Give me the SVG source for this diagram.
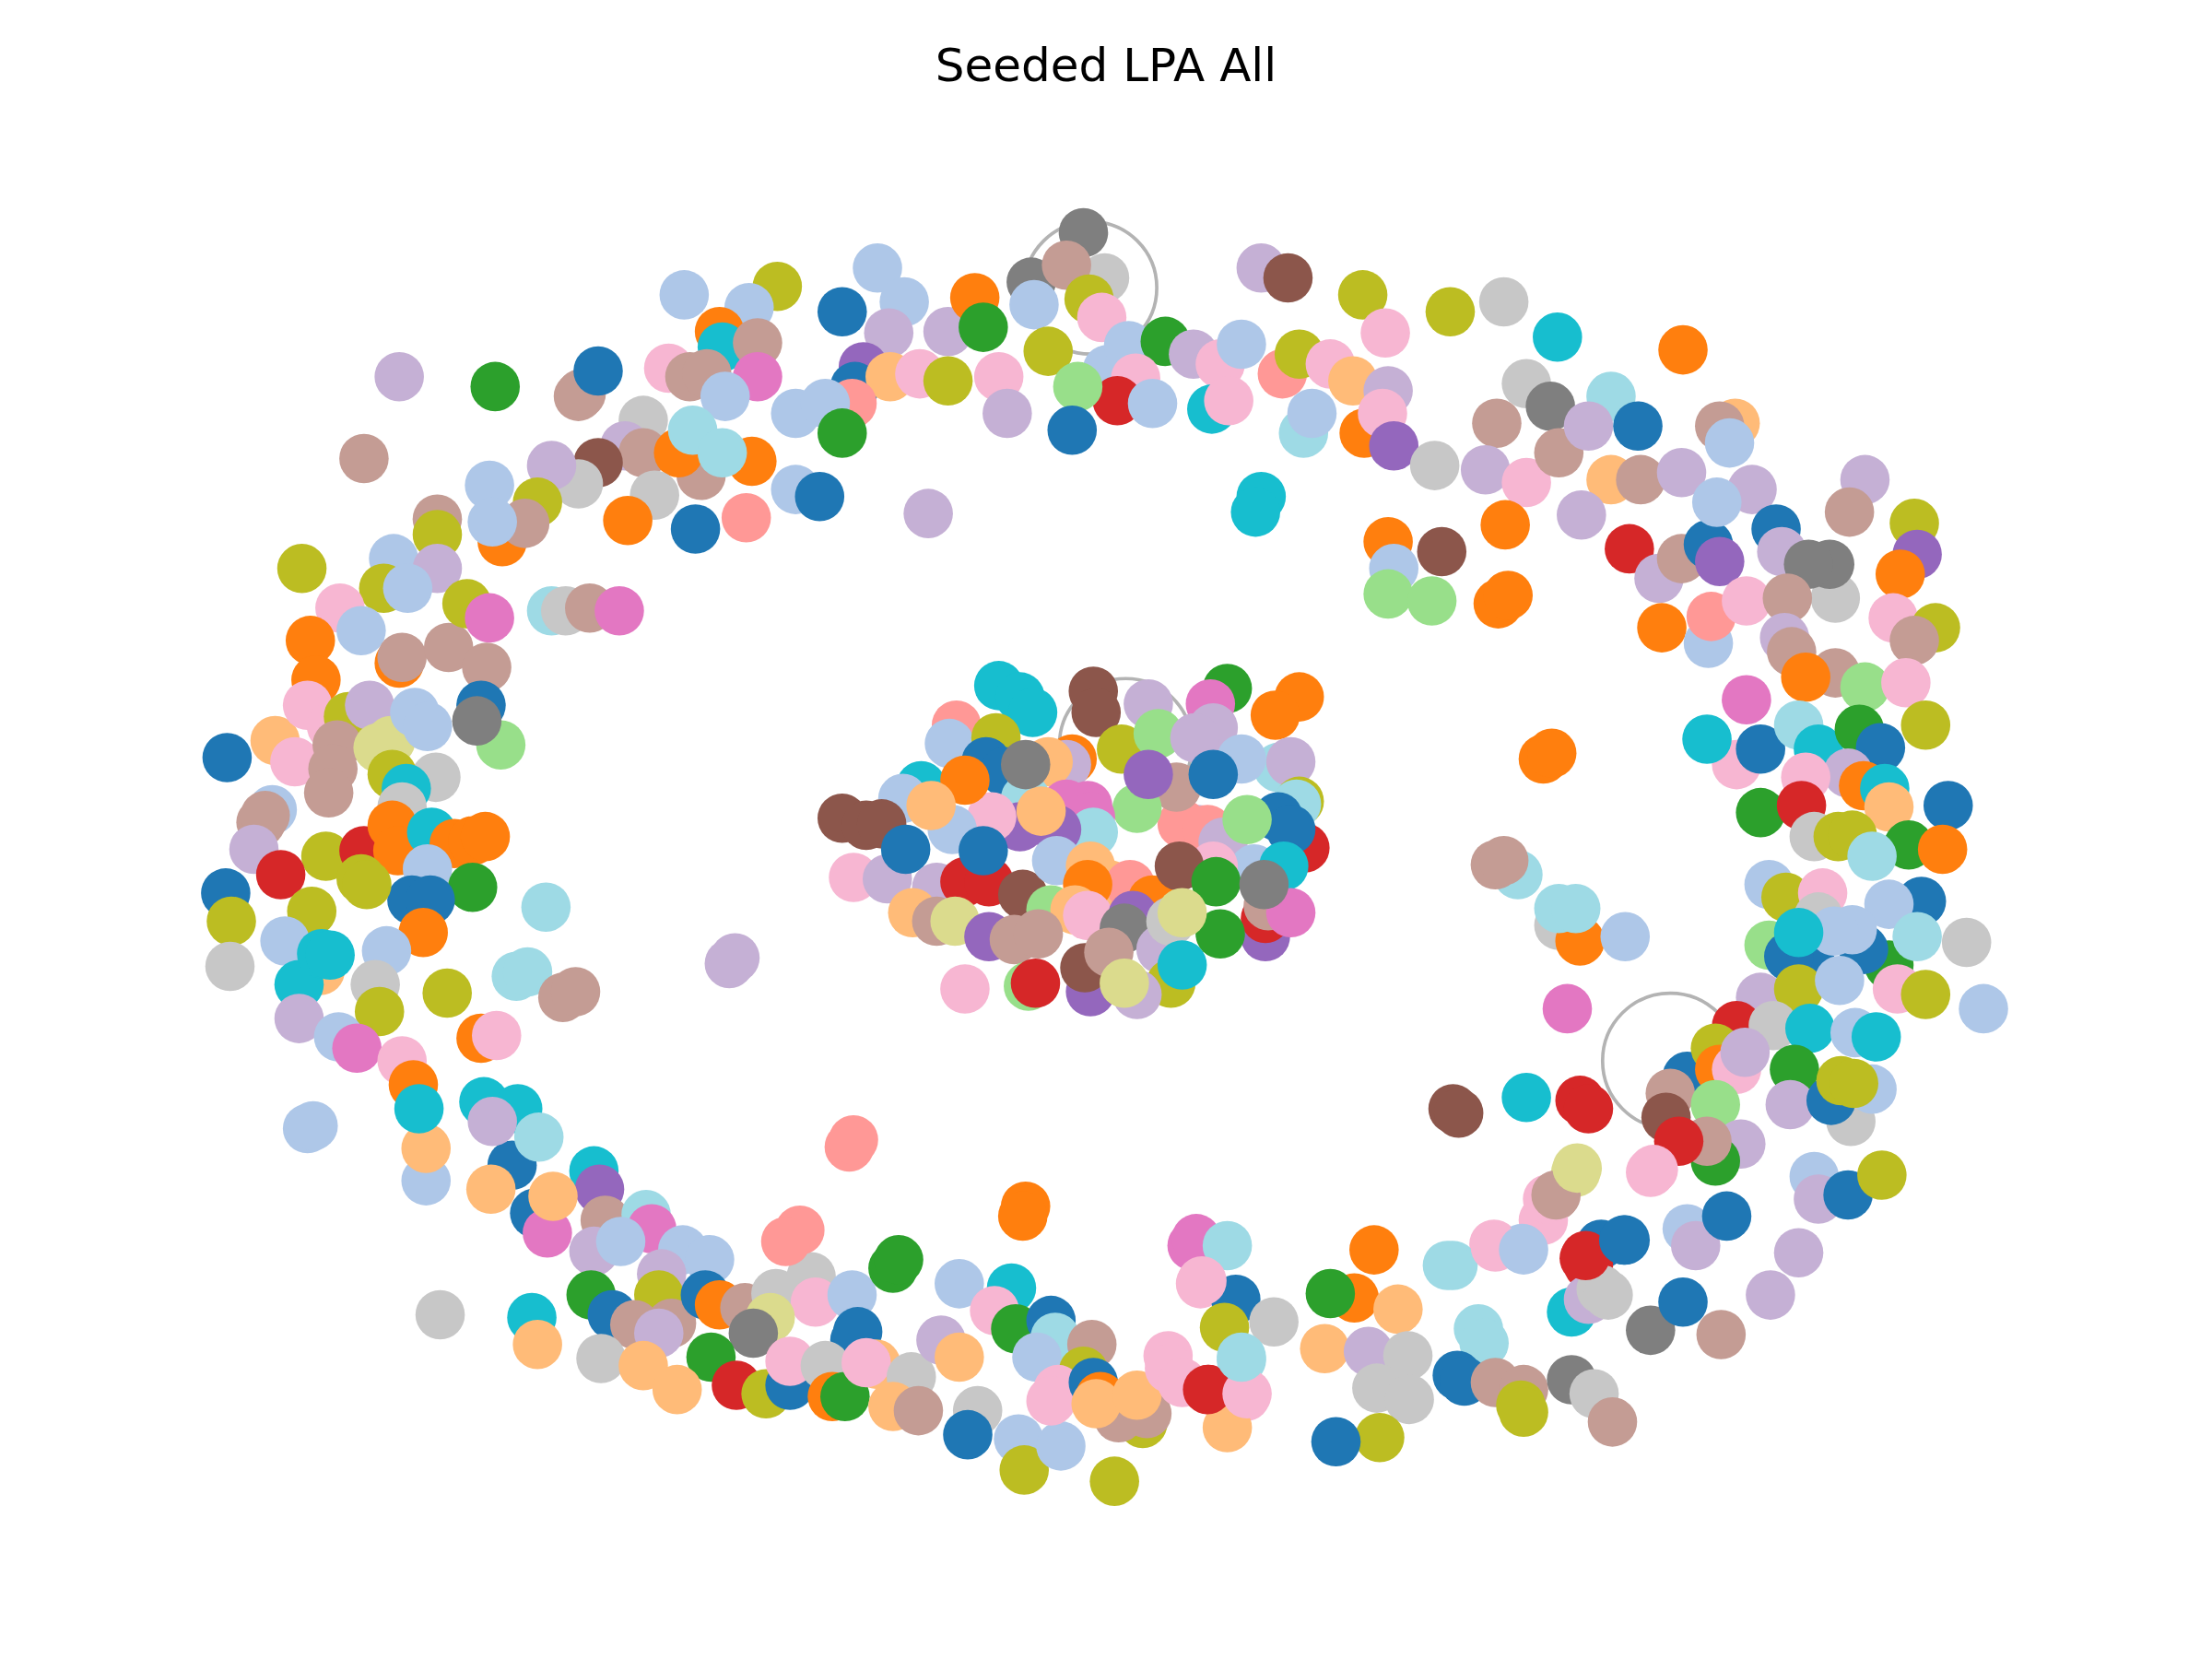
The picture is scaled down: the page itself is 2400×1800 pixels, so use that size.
<svg xmlns="http://www.w3.org/2000/svg" width="2400" height="1800" viewBox="0 0 2400 1800">
<style>
.nodes circle{r:17.5px}
.a{fill:#1f77b4}.b{fill:#aec7e8}.c{fill:#ff7f0e}.d{fill:#ffbb78}.e{fill:#2ca02c}.f{fill:#98df8a}.g{fill:#d62728}.h{fill:#ff9896}.i{fill:#9467bd}.j{fill:#c5b0d5}.k{fill:#8c564b}.l{fill:#c49c94}.m{fill:#e377c2}.n{fill:#f7b6d2}.o{fill:#7f7f7f}.p{fill:#c7c7c7}.q{fill:#bcbd22}.r{fill:#dbdb8d}.s{fill:#17becf}.t{fill:#9edae5}
.loops circle{fill:none;stroke:#b3b3b3;stroke-width:2.4}
.title{font-family:"DejaVu Sans","Liberation Sans",sans-serif;font-size:50px;fill:#000}
</style>
<rect width="2400" height="1800" fill="#fff"/>
<text class="title" x="1200" y="88" text-anchor="middle">Seeded LPA All</text>
<g transform="scale(1.530612)">
<g id="connectors" class="loops">
<circle cx="773" cy="204" r="47"/>
<circle cx="798" cy="528" r="47"/>
<circle cx="1184" cy="752" r="48"/>
</g>
<g id="nodes-top" class="nodes">
<circle class="j" cx="283" cy="267"/><circle class="e" cx="351" cy="274"/><circle class="l" cx="410" cy="281"/><circle class="l" cx="412" cy="279"/><circle class="a" cx="424" cy="263"/><circle class="l" cx="258" cy="325"/>
<circle class="b" cx="485" cy="209"/><circle class="q" cx="551" cy="203"/><circle class="b" cx="531" cy="218"/><circle class="c" cx="510" cy="235"/><circle class="s" cx="512" cy="246"/><circle class="l" cx="537" cy="243"/><circle class="n" cx="474" cy="261"/><circle class="l" cx="489" cy="267"/><circle class="l" cx="501" cy="265"/><circle class="m" cx="537" cy="267"/><circle class="b" cx="514" cy="281"/>
<circle class="a" cx="597" cy="221"/><circle class="b" cx="622" cy="190"/><circle class="b" cx="641" cy="214"/><circle class="j" cx="630" cy="236"/><circle class="i" cx="612" cy="260"/><circle class="a" cx="606" cy="274"/><circle class="d" cx="631" cy="267"/><circle class="n" cx="652" cy="265"/><circle class="j" cx="672" cy="235"/><circle class="c" cx="691" cy="211"/><circle class="e" cx="697" cy="232"/><circle class="q" cx="672" cy="270"/><circle class="n" cx="708" cy="267"/><circle class="j" cx="714" cy="293"/>
<circle class="o" cx="768" cy="165"/><circle class="o" cx="731" cy="200"/><circle class="p" cx="783" cy="197"/><circle class="l" cx="756" cy="188"/><circle class="b" cx="733" cy="216"/><circle class="q" cx="772" cy="212"/><circle class="n" cx="781" cy="225"/><circle class="q" cx="743" cy="249"/><circle class="b" cx="785" cy="262"/><circle class="b" cx="800" cy="245"/><circle class="e" cx="826" cy="242"/><circle class="n" cx="805" cy="268"/><circle class="g" cx="792" cy="284"/><circle class="f" cx="764" cy="274"/><circle class="a" cx="760" cy="305"/><circle class="b" cx="817" cy="286"/>
<circle class="j" cx="846" cy="251"/><circle class="n" cx="865" cy="258"/><circle class="b" cx="880" cy="244"/><circle class="s" cx="859" cy="290"/><circle class="n" cx="871" cy="284"/><circle class="j" cx="894" cy="190"/><circle class="k" cx="913" cy="197"/><circle class="h" cx="909" cy="265"/><circle class="q" cx="921" cy="251"/><circle class="n" cx="943" cy="258"/><circle class="t" cx="924" cy="307"/><circle class="b" cx="930" cy="293"/><circle class="d" cx="959" cy="270"/><circle class="j" cx="984" cy="277"/><circle class="c" cx="967" cy="307"/><circle class="n" cx="980" cy="293"/><circle class="i" cx="988" cy="316"/><circle class="q" cx="966" cy="209"/><circle class="n" cx="982" cy="236"/>
<circle class="q" cx="1028" cy="221"/><circle class="p" cx="1066" cy="214"/><circle class="s" cx="1104" cy="239"/><circle class="p" cx="1082" cy="272"/><circle class="o" cx="1099" cy="288"/><circle class="t" cx="1142" cy="281"/><circle class="c" cx="1193" cy="248"/>
<circle class="b" cx="564" cy="293"/><circle class="h" cx="604" cy="286"/><circle class="b" cx="585" cy="286"/><circle class="e" cx="597" cy="307"/>
<circle class="p" cx="456" cy="298"/><circle class="j" cx="443" cy="316"/><circle class="l" cx="456" cy="321"/><circle class="k" cx="424" cy="328"/><circle class="l" cx="497" cy="337"/><circle class="c" cx="481" cy="321"/><circle class="t" cx="491" cy="305"/><circle class="c" cx="533" cy="327"/><circle class="t" cx="512" cy="321"/><circle class="p" cx="464" cy="351"/><circle class="c" cx="445" cy="369"/><circle class="a" cx="493" cy="375"/><circle class="h" cx="529" cy="367"/><circle class="b" cx="564" cy="347"/><circle class="a" cx="581" cy="352"/><circle class="j" cx="658" cy="364"/>
<circle class="p" cx="410" cy="343"/><circle class="j" cx="391" cy="330"/><circle class="q" cx="381" cy="356"/><circle class="b" cx="347" cy="344"/><circle class="l" cx="310" cy="368"/><circle class="q" cx="310" cy="379"/><circle class="c" cx="356" cy="384"/><circle class="l" cx="372" cy="371"/><circle class="b" cx="349" cy="370"/>
<circle class="q" cx="214" cy="403"/><circle class="b" cx="279" cy="396"/><circle class="j" cx="310" cy="403"/><circle class="q" cx="272" cy="417"/><circle class="b" cx="289" cy="417"/><circle class="n" cx="241" cy="431"/><circle class="b" cx="256" cy="447"/><circle class="c" cx="220" cy="454"/><circle class="c" cx="224" cy="482"/><circle class="c" cx="283" cy="470"/><circle class="l" cx="285" cy="466"/><circle class="l" cx="318" cy="459"/><circle class="l" cx="345" cy="473"/><circle class="q" cx="331" cy="428"/><circle class="m" cx="347" cy="438"/><circle class="t" cx="391" cy="433"/><circle class="p" cx="401" cy="433"/><circle class="l" cx="418" cy="431"/><circle class="m" cx="439" cy="433"/>
</g>
<g id="nodes-right-top" class="nodes">
<circle class="l" cx="1061" cy="300"/><circle class="p" cx="1017" cy="330"/><circle class="j" cx="1053" cy="333"/><circle class="n" cx="1082" cy="342"/><circle class="l" cx="1105" cy="321"/><circle class="j" cx="1126" cy="302"/><circle class="a" cx="1161" cy="302"/><circle class="d" cx="1142" cy="340"/><circle class="l" cx="1163" cy="340"/><circle class="j" cx="1192" cy="335"/><circle class="d" cx="1230" cy="300"/><circle class="l" cx="1219" cy="302"/><circle class="b" cx="1226" cy="314"/><circle class="j" cx="1121" cy="365"/>
<circle class="c" cx="1067" cy="372"/><circle class="c" cx="1062" cy="428"/><circle class="c" cx="1069" cy="422"/><circle class="k" cx="1022" cy="391"/><circle class="c" cx="984" cy="384"/><circle class="b" cx="988" cy="403"/><circle class="f" cx="984" cy="421"/><circle class="f" cx="1015" cy="426"/><circle class="s" cx="894" cy="352"/><circle class="s" cx="890" cy="363"/>
<circle class="g" cx="1155" cy="389"/><circle class="j" cx="1176" cy="410"/><circle class="l" cx="1192" cy="396"/><circle class="a" cx="1211" cy="386"/><circle class="i" cx="1219" cy="398"/><circle class="c" cx="1178" cy="445"/><circle class="b" cx="1211" cy="456"/><circle class="h" cx="1213" cy="437"/><circle class="n" cx="1238" cy="426"/>
<circle class="j" cx="1242" cy="347"/><circle class="b" cx="1217" cy="356"/><circle class="a" cx="1259" cy="375"/><circle class="j" cx="1263" cy="391"/><circle class="p" cx="1301" cy="424"/><circle class="o" cx="1297" cy="400"/><circle class="o" cx="1282" cy="400"/><circle class="j" cx="1322" cy="340"/><circle class="l" cx="1311" cy="363"/><circle class="q" cx="1357" cy="371"/><circle class="i" cx="1359" cy="393"/><circle class="c" cx="1347" cy="407"/><circle class="n" cx="1342" cy="438"/><circle class="q" cx="1372" cy="445"/><circle class="l" cx="1357" cy="454"/>
<circle class="l" cx="1267" cy="424"/><circle class="j" cx="1265" cy="452"/><circle class="l" cx="1270" cy="462"/><circle class="l" cx="1301" cy="477"/><circle class="f" cx="1322" cy="487"/><circle class="n" cx="1351" cy="484"/><circle class="c" cx="1280" cy="480"/><circle class="q" cx="1365" cy="514"/><circle class="m" cx="1238" cy="496"/>
</g>
<g id="nodes-right" class="nodes">
<circle class="c" cx="1094" cy="538"/><circle class="c" cx="1100" cy="534"/>
<circle class="n" cx="1231" cy="542"/><circle class="s" cx="1210" cy="524"/><circle class="a" cx="1248" cy="531"/><circle class="t" cx="1275" cy="514"/><circle class="s" cx="1289" cy="531"/><circle class="e" cx="1318" cy="517"/><circle class="a" cx="1333" cy="530"/><circle class="j" cx="1310" cy="548"/><circle class="n" cx="1280" cy="551"/><circle class="c" cx="1321" cy="557"/><circle class="s" cx="1336" cy="559"/><circle class="d" cx="1339" cy="572"/><circle class="a" cx="1381" cy="571"/>
<circle class="e" cx="1248" cy="576"/><circle class="g" cx="1277" cy="571"/><circle class="p" cx="1286" cy="593"/><circle class="e" cx="1353" cy="599"/><circle class="c" cx="1377" cy="602"/><circle class="q" cx="1303" cy="593"/><circle class="q" cx="1313" cy="592"/><circle class="t" cx="1327" cy="607"/>
<circle class="b" cx="1254" cy="627"/><circle class="q" cx="1266" cy="636"/><circle class="n" cx="1292" cy="633"/><circle class="a" cx="1362" cy="639"/><circle class="b" cx="1339" cy="641"/><circle class="p" cx="1289" cy="650"/><circle class="f" cx="1254" cy="670"/><circle class="a" cx="1283" cy="681"/><circle class="a" cx="1268" cy="678"/><circle class="e" cx="1339" cy="684"/><circle class="a" cx="1321" cy="673"/><circle class="b" cx="1313" cy="659"/><circle class="b" cx="1300" cy="660"/><circle class="s" cx="1275" cy="661"/><circle class="t" cx="1359" cy="664"/><circle class="p" cx="1394" cy="668"/>
<circle class="j" cx="1248" cy="707"/><circle class="q" cx="1275" cy="701"/><circle class="b" cx="1304" cy="695"/><circle class="n" cx="1345" cy="701"/><circle class="q" cx="1365" cy="705"/><circle class="b" cx="1406" cy="715"/>
<circle class="g" cx="1231" cy="727"/><circle class="p" cx="1257" cy="727"/><circle class="s" cx="1283" cy="729"/><circle class="b" cx="1315" cy="732"/><circle class="s" cx="1330" cy="735"/><circle class="a" cx="1196" cy="763"/><circle class="q" cx="1216" cy="743"/><circle class="c" cx="1219" cy="758"/><circle class="n" cx="1231" cy="758"/><circle class="j" cx="1237" cy="746"/>
<circle class="l" cx="1184" cy="775"/><circle class="k" cx="1181" cy="792"/><circle class="f" cx="1216" cy="783"/><circle class="j" cx="1234" cy="811"/><circle class="e" cx="1216" cy="823"/><circle class="l" cx="1210" cy="809"/><circle class="g" cx="1190" cy="809"/>
<circle class="e" cx="1272" cy="758"/><circle class="j" cx="1269" cy="783"/><circle class="p" cx="1312" cy="795"/><circle class="a" cx="1298" cy="780"/><circle class="b" cx="1327" cy="772"/><circle class="q" cx="1305" cy="766"/><circle class="q" cx="1314" cy="768"/>
<circle class="k" cx="1030" cy="786"/><circle class="k" cx="1034" cy="789"/><circle class="s" cx="1082" cy="778"/><circle class="g" cx="1120" cy="780"/><circle class="g" cx="1126" cy="786"/><circle class="m" cx="1111" cy="715"/>
<circle class="t" cx="1076" cy="620"/><circle class="l" cx="1060" cy="613"/><circle class="l" cx="1066" cy="610"/><circle class="p" cx="1105" cy="656"/><circle class="c" cx="1120" cy="667"/><circle class="t" cx="1105" cy="644"/><circle class="t" cx="1117" cy="644"/><circle class="b" cx="1152" cy="664"/>
<circle class="n" cx="1170" cy="831"/><circle class="l" cx="1102" cy="848"/><circle class="r" cx="1117" cy="831"/><circle class="n" cx="1094" cy="865"/><circle class="n" cx="1059" cy="882"/><circle class="b" cx="1079" cy="885"/><circle class="t" cx="1030" cy="897"/>
<circle class="a" cx="1152" cy="879"/><circle class="a" cx="1135" cy="882"/><circle class="g" cx="1123" cy="892"/><circle class="g" cx="1126" cy="897"/><circle class="b" cx="1196" cy="871"/><circle class="j" cx="1202" cy="883"/><circle class="a" cx="1224" cy="862"/>
<circle class="j" cx="1275" cy="888"/><circle class="j" cx="1255" cy="918"/><circle class="b" cx="1286" cy="834"/><circle class="j" cx="1289" cy="850"/><circle class="a" cx="1310" cy="847"/><circle class="q" cx="1334" cy="833"/>
<circle class="s" cx="1114" cy="930"/><circle class="j" cx="1126" cy="921"/><circle class="p" cx="1135" cy="914"/><circle class="p" cx="1140" cy="918"/><circle class="o" cx="1170" cy="943"/><circle class="a" cx="1193" cy="923"/><circle class="l" cx="1220" cy="946"/>
</g>
<g id="nodes-bottom" class="nodes">
<circle class="m" cx="845" cy="883"/><circle class="m" cx="848" cy="878"/><circle class="t" cx="870" cy="883"/><circle class="n" cx="851" cy="910"/><circle class="a" cx="876" cy="921"/><circle class="q" cx="868" cy="941"/><circle class="p" cx="903" cy="937"/><circle class="c" cx="960" cy="920"/><circle class="e" cx="943" cy="917"/><circle class="c" cx="974" cy="886"/><circle class="d" cx="991" cy="928"/><circle class="d" cx="939" cy="956"/><circle class="j" cx="970" cy="958"/><circle class="p" cx="998" cy="961"/><circle class="p" cx="976" cy="984"/><circle class="p" cx="999" cy="992"/><circle class="q" cx="978" cy="1019"/><circle class="a" cx="947" cy="1022"/>
<circle class="n" cx="828" cy="961"/><circle class="g" cx="857" cy="985"/><circle class="t" cx="880" cy="964"/><circle class="n" cx="883" cy="990"/><circle class="d" cx="870" cy="1012"/><circle class="q" cx="810" cy="1009"/><circle class="l" cx="793" cy="1005"/><circle class="l" cx="813" cy="1002"/><circle class="q" cx="790" cy="1050"/>
<circle class="t" cx="1026" cy="897"/><circle class="t" cx="1048" cy="942"/><circle class="t" cx="1052" cy="952"/><circle class="a" cx="1033" cy="975"/><circle class="a" cx="1038" cy="979"/><circle class="l" cx="1060" cy="980"/><circle class="l" cx="1080" cy="985"/><circle class="q" cx="1078" cy="996"/><circle class="q" cx="1080" cy="1001"/><circle class="o" cx="1114" cy="978"/><circle class="p" cx="1130" cy="988"/><circle class="l" cx="1143" cy="1008"/>
<circle class="n" cx="1060" cy="884"/><circle class="b" cx="1080" cy="886"/><circle class="n" cx="1097" cy="850"/><circle class="l" cx="1103" cy="847"/><circle class="r" cx="1118" cy="828"/><circle class="n" cx="1172" cy="829"/><circle class="g" cx="1124" cy="890"/><circle class="a" cx="1151" cy="879"/>
<circle class="b" cx="302" cy="837"/><circle class="d" cx="302" cy="814"/><circle class="a" cx="363" cy="826"/><circle class="d" cx="348" cy="843"/><circle class="s" cx="421" cy="830"/><circle class="i" cx="425" cy="843"/><circle class="a" cx="379" cy="860"/><circle class="m" cx="388" cy="874"/><circle class="d" cx="392" cy="848"/><circle class="l" cx="429" cy="865"/><circle class="t" cx="458" cy="861"/><circle class="m" cx="462" cy="871"/><circle class="j" cx="421" cy="887"/><circle class="b" cx="440" cy="880"/><circle class="b" cx="484" cy="886"/><circle class="b" cx="503" cy="893"/><circle class="j" cx="469" cy="903"/>
<circle class="e" cx="419" cy="918"/><circle class="a" cx="434" cy="932"/><circle class="q" cx="467" cy="918"/><circle class="l" cx="450" cy="939"/><circle class="l" cx="476" cy="938"/><circle class="a" cx="500" cy="918"/><circle class="c" cx="510" cy="925"/><circle class="l" cx="528" cy="927"/><circle class="p" cx="550" cy="917"/><circle class="p" cx="575" cy="905"/><circle class="n" cx="578" cy="923"/><circle class="b" cx="604" cy="918"/><circle class="e" cx="633" cy="899"/><circle class="e" cx="637" cy="893"/>
<circle class="b" cx="680" cy="910"/><circle class="s" cx="717" cy="913"/><circle class="n" cx="705" cy="929"/><circle class="e" cx="720" cy="942"/><circle class="a" cx="745" cy="936"/><circle class="t" cx="748" cy="948"/><circle class="b" cx="735" cy="962"/>
<circle class="a" cx="606" cy="950"/><circle class="a" cx="608" cy="944"/><circle class="r" cx="546" cy="934"/><circle class="o" cx="534" cy="945"/><circle class="e" cx="504" cy="962"/><circle class="j" cx="467" cy="945"/><circle class="p" cx="426" cy="963"/><circle class="d" cx="456" cy="968"/><circle class="d" cx="480" cy="985"/><circle class="g" cx="522" cy="982"/><circle class="q" cx="543" cy="988"/><circle class="a" cx="560" cy="982"/><circle class="n" cx="560" cy="965"/><circle class="p" cx="585" cy="968"/><circle class="c" cx="590" cy="990"/><circle class="e" cx="599" cy="990"/><circle class="d" cx="621" cy="967"/><circle class="n" cx="614" cy="966"/><circle class="p" cx="646" cy="976"/><circle class="d" cx="633" cy="997"/><circle class="l" cx="651" cy="1000"/><circle class="j" cx="667" cy="950"/><circle class="d" cx="680" cy="962"/><circle class="p" cx="693" cy="1000"/><circle class="a" cx="686" cy="1017"/><circle class="b" cx="722" cy="1020"/><circle class="q" cx="726" cy="1042"/><circle class="b" cx="752" cy="1025"/>
<circle class="l" cx="774" cy="953"/><circle class="q" cx="768" cy="972"/><circle class="n" cx="750" cy="985"/><circle class="n" cx="745" cy="993"/><circle class="a" cx="775" cy="980"/><circle class="c" cx="780" cy="990"/><circle class="d" cx="777" cy="995"/><circle class="d" cx="806" cy="989"/><circle class="n" cx="829" cy="970"/><circle class="n" cx="838" cy="980"/><circle class="g" cx="856" cy="985"/><circle class="n" cx="884" cy="988"/><circle class="t" cx="880" cy="962"/><circle class="n" cx="852" cy="908"/>
<circle class="p" cx="312" cy="932"/><circle class="s" cx="377" cy="934"/><circle class="d" cx="381" cy="953"/><circle class="h" cx="567" cy="872"/><circle class="h" cx="557" cy="880"/><circle class="c" cx="727" cy="855"/><circle class="c" cx="725" cy="862"/><circle class="h" cx="602" cy="813"/><circle class="h" cx="605" cy="808"/>
</g>
<g id="nodes-left" class="nodes">
<circle class="a" cx="161" cy="537"/><circle class="d" cx="195" cy="525"/><circle class="n" cx="209" cy="540"/><circle class="n" cx="218" cy="500"/><circle class="n" cx="235" cy="515"/><circle class="q" cx="247" cy="508"/><circle class="j" cx="262" cy="500"/><circle class="l" cx="239" cy="528"/><circle class="l" cx="236" cy="545"/><circle class="r" cx="277" cy="525"/><circle class="r" cx="268" cy="530"/><circle class="b" cx="294" cy="505"/><circle class="b" cx="303" cy="515"/><circle class="a" cx="341" cy="500"/><circle class="f" cx="355" cy="528"/><circle class="o" cx="338" cy="511"/>
<circle class="p" cx="309" cy="551"/><circle class="q" cx="278" cy="549"/><circle class="s" cx="288" cy="559"/><circle class="p" cx="285" cy="572"/><circle class="l" cx="233" cy="562"/><circle class="b" cx="193" cy="574"/><circle class="l" cx="185" cy="583"/><circle class="l" cx="188" cy="578"/><circle class="j" cx="180" cy="602"/><circle class="q" cx="231" cy="607"/><circle class="g" cx="258" cy="603"/><circle class="c" cx="278" cy="585"/><circle class="c" cx="282" cy="603"/><circle class="s" cx="306" cy="590"/><circle class="c" cx="322" cy="598"/><circle class="c" cx="335" cy="596"/><circle class="c" cx="344" cy="593"/><circle class="b" cx="303" cy="616"/><circle class="e" cx="335" cy="629"/><circle class="a" cx="292" cy="638"/><circle class="a" cx="305" cy="638"/>
<circle class="g" cx="199" cy="620"/><circle class="a" cx="160" cy="633"/><circle class="q" cx="164" cy="653"/><circle class="p" cx="163" cy="685"/><circle class="q" cx="221" cy="646"/><circle class="q" cx="256" cy="623"/><circle class="q" cx="260" cy="627"/><circle class="b" cx="202" cy="667"/><circle class="c" cx="300" cy="661"/><circle class="d" cx="227" cy="688"/><circle class="s" cx="212" cy="698"/><circle class="s" cx="228" cy="676"/><circle class="s" cx="234" cy="677"/><circle class="b" cx="274" cy="674"/><circle class="p" cx="266" cy="698"/><circle class="q" cx="269" cy="717"/><circle class="j" cx="212" cy="722"/><circle class="b" cx="240" cy="735"/><circle class="q" cx="317" cy="704"/><circle class="m" cx="253" cy="743"/><circle class="n" cx="285" cy="752"/><circle class="c" cx="293" cy="769"/><circle class="s" cx="297" cy="786"/><circle class="b" cx="218" cy="800"/><circle class="b" cx="222" cy="798"/>
<circle class="t" cx="387" cy="643"/><circle class="t" cx="366" cy="692"/><circle class="t" cx="374" cy="689"/><circle class="l" cx="399" cy="707"/><circle class="l" cx="408" cy="703"/><circle class="j" cx="517" cy="683"/><circle class="j" cx="521" cy="679"/><circle class="c" cx="341" cy="736"/><circle class="n" cx="352" cy="734"/>
<circle class="s" cx="343" cy="781"/><circle class="s" cx="367" cy="786"/><circle class="j" cx="349" cy="795"/><circle class="t" cx="382" cy="806"/>
</g>
<g id="nodes-center" class="nodes">
<circle class="s" cx="708" cy="486"/><circle class="s" cx="723" cy="494"/><circle class="s" cx="732" cy="505"/><circle class="k" cx="775" cy="490"/><circle class="k" cx="777" cy="505"/><circle class="j" cx="814" cy="499"/><circle class="e" cx="870" cy="488"/><circle class="m" cx="858" cy="499"/><circle class="j" cx="860" cy="516"/><circle class="c" cx="921" cy="494"/><circle class="c" cx="904" cy="507"/>
<circle class="h" cx="678" cy="514"/><circle class="b" cx="673" cy="527"/><circle class="q" cx="706" cy="523"/><circle class="a" cx="699" cy="540"/><circle class="a" cx="712" cy="547"/><circle class="c" cx="760" cy="538"/><circle class="j" cx="756" cy="542"/><circle class="d" cx="743" cy="540"/><circle class="q" cx="795" cy="531"/><circle class="f" cx="821" cy="520"/><circle class="j" cx="847" cy="523"/><circle class="t" cx="906" cy="544"/><circle class="j" cx="915" cy="540"/><circle class="q" cx="921" cy="568"/><circle class="t" cx="919" cy="570"/><circle class="a" cx="906" cy="579"/><circle class="g" cx="925" cy="601"/><circle class="a" cx="915" cy="588"/>
<circle class="j" cx="849" cy="588"/><circle class="h" cx="838" cy="584"/><circle class="l" cx="834" cy="558"/><circle class="f" cx="806" cy="573"/><circle class="m" cx="771" cy="571"/><circle class="t" cx="727" cy="566"/><circle class="m" cx="756" cy="570"/><circle class="m" cx="773" cy="579"/><circle class="t" cx="775" cy="590"/><circle class="i" cx="749" cy="588"/><circle class="i" cx="723" cy="586"/><circle class="n" cx="703" cy="579"/><circle class="d" cx="738" cy="575"/><circle class="h" cx="856" cy="588"/><circle class="j" cx="867" cy="597"/><circle class="b" cx="889" cy="616"/>
<circle class="s" cx="653" cy="557"/><circle class="b" cx="640" cy="566"/><circle class="k" cx="597" cy="580"/><circle class="k" cx="614" cy="585"/><circle class="k" cx="625" cy="584"/><circle class="b" cx="675" cy="588"/><circle class="n" cx="605" cy="622"/><circle class="j" cx="629" cy="623"/><circle class="j" cx="664" cy="629"/><circle class="g" cx="684" cy="625"/><circle class="g" cx="701" cy="625"/><circle class="k" cx="725" cy="634"/><circle class="b" cx="749" cy="610"/><circle class="d" cx="773" cy="614"/><circle class="d" cx="786" cy="627"/><circle class="h" cx="801" cy="627"/><circle class="c" cx="771" cy="627"/><circle class="c" cx="817" cy="638"/>
<circle class="f" cx="745" cy="645"/><circle class="d" cx="762" cy="645"/><circle class="d" cx="647" cy="647"/><circle class="l" cx="664" cy="653"/><circle class="r" cx="677" cy="653"/><circle class="i" cx="701" cy="664"/><circle class="l" cx="719" cy="666"/><circle class="l" cx="736" cy="662"/><circle class="n" cx="771" cy="649"/><circle class="i" cx="803" cy="649"/><circle class="o" cx="797" cy="658"/><circle class="j" cx="823" cy="673"/><circle class="p" cx="830" cy="653"/><circle class="q" cx="830" cy="697"/><circle class="i" cx="897" cy="664"/><circle class="g" cx="897" cy="651"/><circle class="l" cx="899" cy="642"/><circle class="s" cx="910" cy="614"/><circle class="m" cx="915" cy="647"/><circle class="n" cx="860" cy="614"/><circle class="k" cx="836" cy="614"/><circle class="e" cx="862" cy="625"/>
<circle class="f" cx="729" cy="699"/><circle class="g" cx="734" cy="697"/><circle class="n" cx="684" cy="701"/><circle class="i" cx="773" cy="703"/><circle class="j" cx="806" cy="705"/><circle class="k" cx="769" cy="686"/><circle class="l" cx="786" cy="675"/><circle class="r" cx="797" cy="697"/><circle class="s" cx="838" cy="684"/><circle class="e" cx="865" cy="662"/><circle class="r" cx="838" cy="647"/><circle class="o" cx="896" cy="627"/>
<circle class="c" cx="684" cy="553"/><circle class="d" cx="660" cy="571"/><circle class="a" cx="642" cy="602"/><circle class="a" cx="697" cy="603"/><circle class="o" cx="727" cy="542"/><circle class="f" cx="884" cy="581"/><circle class="b" cx="880" cy="538"/><circle class="i" cx="814" cy="549"/><circle class="a" cx="860" cy="549"/>
</g>
</g>
</svg>
